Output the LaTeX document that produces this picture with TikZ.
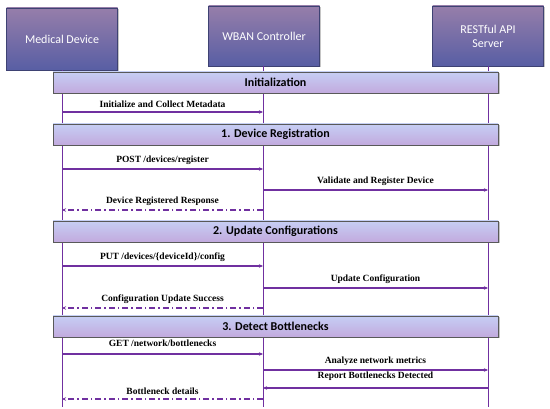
\documentclass[tikz,border=0pt]{standalone}
\usepackage{fontspec}
\setmainfont{Liberation Serif}
\newfontfamily\hdrfont{Carlito}
\usetikzlibrary{shadows,arrows.meta}
\definecolor{lifec}{RGB}{112,48,160}
\definecolor{hdrtop}{RGB}{150,126,170}
\definecolor{hdrbot}{RGB}{88,94,164}
\definecolor{bartop}{RGB}{198,206,244}
\definecolor{barbot}{RGB}{194,170,222}
\tikzset{
  hdr/.style={rectangle, draw=hdrbot!70!black, line width=0.4pt, top color=hdrtop, bottom color=hdrbot,
    minimum width=111pt, text=white, font=\hdrfont\fontsize{12}{14}\selectfont, align=center,
    drop shadow={shadow xshift=1.5pt, shadow yshift=-1.5pt, opacity=0.45}},
  phase/.style={rectangle, draw=black!65, line width=0.5pt, top color=bartop, bottom color=barbot,
    minimum width=445pt, minimum height=21pt, inner sep=0pt, font=\hdrfont\bfseries\fontsize{12}{14}\selectfont,
    drop shadow={shadow xshift=1.5pt, shadow yshift=-1.5pt, opacity=0.45}},
  life/.style={draw=lifec, line width=1pt},
  msg/.style={draw=lifec, line width=1.1pt, -{Stealth[length=4pt,width=3.5pt]}},
  ret/.style={msg, dash pattern=on 6pt off 3pt on 1.5pt off 3pt},
  lbl/.style={midway, above=4pt, inner sep=0pt, font=\bfseries\fontsize{9.5}{11}\selectfont}
}
\begin{document}
\begin{tikzpicture}[x=1pt,y=-1pt]
\useasboundingbox (0,0) rectangle (550,409);
\fill[white] (0,0) rectangle (550,409);
% headers
\node[hdr, minimum height=62pt] (md) at (62,39) {Medical Device};
\node[hdr, minimum height=60pt] (wb) at (264,36) {WBAN Controller};
\node[hdr, minimum height=60pt] (rs) at (488,36) {RESTful API\\Server};
% lifeline ends
\coordinate (mdE) at (62,407);
\coordinate (wbE) at (263,407);
\coordinate (rsE) at (488,407);
\draw[life] (md.south -| mdE) -- (mdE);
\draw[life] (wb.south -| wbE) -- (wbE);
\draw[life] (rs.south -| rsE) -- (rsE);
% phase bars
\node[phase] (p0) at (275.5,82.5) {Initialization};
\node[phase] (p1) at (275.5,134.5) {1. Device Registration};
\node[phase] (p2) at (275.5,231.5) {2. Update Configurations};
\node[phase] (p3) at (275.5,326.5) {3. Detect Bottlenecks};
% message coordinates
\foreach \n/\y in {a/112,b/169,c/190,d/210,e/266,f/288,g/308,h/354,i/370,j/388,k/399}{
  \coordinate (M\n) at (62,\y);
  \coordinate (W\n) at (263,\y);
  \coordinate (R\n) at (488,\y);
}
\draw[msg] (Ma) -- node[lbl]{Initialize and Collect Metadata} (Wa);
\draw[msg] (Mb) -- node[lbl]{POST /devices/register} (Wb);
\draw[msg] (Wc) -- node[lbl]{Validate and Register Device} (Rc);
\draw[ret] (Wd) -- node[lbl]{Device Registered Response} (Md);
\draw[msg] (Me) -- node[lbl]{PUT /devices/\{deviceId\}/config} (We);
\draw[msg] (Wf) -- node[lbl]{Update Configuration} (Rf);
\draw[ret] (Wg) -- node[lbl]{Configuration Update Success} (Mg);
\draw[msg] (Mh) -- node[lbl, above=3pt]{GET /network/bottlenecks} (Wh);
\draw[msg] (Wi) -- node[lbl]{Analyze network metrics} (Ri);
\draw[msg] (Rj) -- node[lbl, above=3pt]{Report Bottlenecks Detected} (Wj);
\draw[ret] (Wk) -- node[lbl]{Bottleneck details} (Mk);
\end{tikzpicture}
\end{document}
